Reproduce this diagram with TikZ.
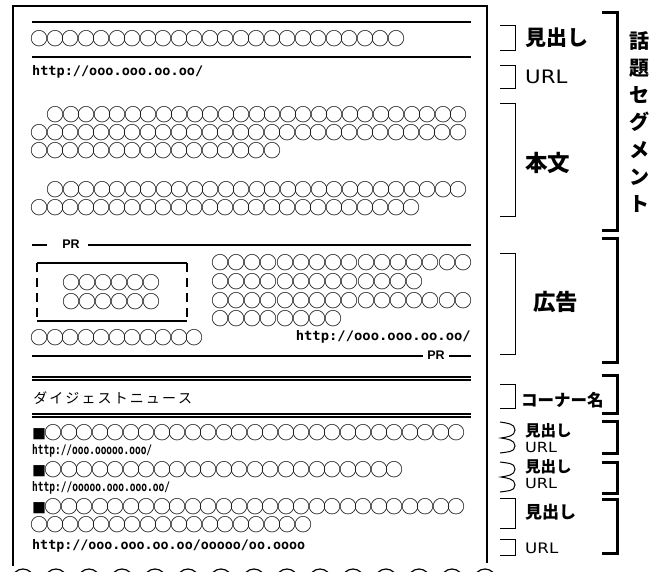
\documentclass[tikz,border=0pt]{standalone}
\usepackage{fontspec}
\usepackage{graphicx}
\newfontfamily\jp{Noto Sans CJK JP}
\newfontfamily\urlf{DejaVu Sans Mono}
\newfontfamily\lat{DejaVu Sans}[FakeStretch=1.15]
\newfontfamily\prf{Liberation Sans}
\newcommand\circs[2][15.5pt]{\foreach \k in {1,...,#2}{\makebox[#1][c]{○}}}
\newcommand\urltxt[2]{\resizebox{#1pt}{10pt}{\urlf\bfseries #2}}
\newcommand\jsz[1]{\fontsize{#1}{#1}\selectfont}
\tikzset{
  row/.style={anchor=west, inner sep=0pt, font=\jp\jsz{18}},
  urlnode/.style={anchor=west, inner sep=0pt},
  frame/.style={line width=2.4pt},
  rule/.style={line width=1.3pt},
  sbr/.style={line width=1pt},
  bbr/.style={line width=3pt},
  lab/.style={anchor=west, inner sep=0pt},
  prlab/.style={inner sep=0pt, font=\prf\bfseries\jsz{12.5}},
  arcc/.style={line width=1.2pt}
}
\begin{document}
\begin{tikzpicture}[x=1pt,y=-1pt]
\useasboundingbox (0,0) rectangle (656,571);
% frame
\draw[frame] (12,6) -- (488,6);
\draw[frame] (13,5) -- (13,566);
\draw[frame] (487,5) -- (487,563);
% topic segment
\draw[rule] (32,22) -- (471,22);
\node[row] (r0) at (32,39) {\circs{24}};
\draw[rule] (32,57) -- (471,57);
\node[urlnode] (u0) at (32,72) {\urltxt{171}{http://ooo.ooo.oo.oo/}};
\node[row] (p1a) at (48,115) {\circs{27}};
\node[row] (p1b) at (32,133) {\circs{28}};
\node[row] (p1c) at (32,151) {\circs{16}};
\node[row] (p2a) at (48,190) {\circs{27}};
\node[row] (p2b) at (32,208) {\circs{25}};
% ad
\node[prlab] (pr1) at (71,244) {PR};
\draw[rule] (32,245) -- (47,245);
\draw[rule] (88,245) -- (471,245);
\draw[rule] (37,263) -- (187,263);
\draw[rule] (37,321) -- (187,321);
\draw[rule, dash pattern=on 9pt off 6pt] (37,263) -- (37,321);
\draw[rule, dash pattern=on 9pt off 6pt] (187,263) -- (187,321);
\node[row] (a1) at (63,283) {\circs[16pt]{6}};
\node[row] (a2) at (63,302) {\circs[16pt]{6}};
\node[row] (a3) at (212,263) {\circs[16.2pt]{16}};
\node[row] (a4) at (212,282) {\circs[16.2pt]{13}};
\node[row] (a5) at (212,301) {\circs[16.2pt]{16}};
\node[row] (a6) at (212,319) {\circs[16.2pt]{8}};
\node[row] (a7) at (32,338) {\circs{11}};
\node[urlnode, anchor=east] (u1) at (471,337) {\urltxt{175}{http://ooo.ooo.oo.oo/}};
\draw[rule] (32,356) -- (423,356);
\node[prlab] (pr2) at (436,355) {PR};
\draw[rule] (449,356) -- (471,356);
% digest
\draw[rule] (32,377) -- (471,377);
\draw[rule] (32,380) -- (471,380);
\node[lab, font=\jp\jsz{14}] (dg) at (32,398) {\makebox[16.1pt]{ダ}\makebox[16.1pt]{イ}\makebox[16.1pt]{ジ}\makebox[16.1pt]{ェ}\makebox[16.1pt]{ス}\makebox[16.1pt]{ト}\makebox[16.1pt]{ニ}\makebox[16.1pt]{ュ}\makebox[16.1pt]{ー}\makebox[16.1pt]{ス}};
\draw[rule] (32,414) -- (471,414);
\draw[rule] (32,417) -- (471,417);
\node[row] (d1) at (32,433) {\makebox[14pt][l]{\jsz{14}■}\circs{27}};
\node[urlnode] (du1) at (32,451) {\urltxt{120}{http://ooo.ooooo.ooo/}};
\node[row] (d2) at (32,470) {\makebox[14pt][l]{\jsz{14}■}\circs{23}};
\node[urlnode] (du2) at (32,488) {\urltxt{138}{http://ooooo.ooo.ooo.oo/}};
\node[row] (d3) at (32,507) {\makebox[14pt][l]{\jsz{14}■}\circs{27}};
\node[row] (d4) at (32,525) {\circs{18}};
\node[urlnode] (du3) at (32,546) {\urltxt{273}{http://ooo.ooo.oo.oo/ooooo/oo.oooo}};
% partial circles at bottom
\begin{scope}
\clip (0,0) rectangle (656,571);
\foreach \i in {0,...,14} \draw[arcc] ({23+33*\i},580) circle (11);
\end{scope}
% small brackets and labels
\draw[sbr] (500,25) -- (515,25) -- (515,50) -- (500,50);
\node[lab, font=\jp\bfseries\jsz{21}] (lh1) at (525,38) {見出し};
\draw[sbr] (500,65) -- (515,65) -- (515,88) -- (500,88);
\node[lab, font=\lat\jsz{18.5}] (lu1) at (525,77) {URL};
\draw[sbr] (500,103) -- (515,103) -- (515,216) -- (500,216);
\node[lab, font=\jp\bfseries\jsz{22.5}] (lbody) at (525,163) {本文};
\draw[sbr] (500,253) -- (515,253) -- (515,354) -- (500,354);
\node[lab, font=\jp\bfseries\jsz{22.5}] (lad) at (533,302) {広告};
\draw[sbr] (500,384) -- (515,384) -- (515,408) -- (500,408);
\node[lab, font=\jp\bfseries\jsz{16.5}] (lcor) at (521,400) {コーナー名};
\draw[sbr] (500,422) to[out=-10,in=90] (515,430) to[out=-90,in=10] (501,438) to[out=-10,in=90] (515,446) to[out=-90,in=10] (500,453);
\node[lab, font=\jp\bfseries\jsz{15.5}] (lh2) at (525,431) {見出し};
\node[lab, font=\lat\jsz{14}] (lu2) at (525,447) {URL};
\draw[sbr] (500,462) to[out=-10,in=90] (515,469) to[out=-90,in=10] (501,477) to[out=-10,in=90] (515,485) to[out=-90,in=10] (500,492);
\node[lab, font=\lat\jsz{14}] (lu3) at (525,483) {URL};
\node[lab, font=\jp\bfseries\jsz{15.5}] (lh3) at (525,467) {見出し};
\draw[sbr] (500,498) -- (515,498) -- (515,528) -- (500,528);
\node[lab, font=\jp\bfseries\jsz{17}] (lh4) at (525,512) {見出し};
\draw[sbr] (500,539) -- (515,539) -- (515,555) -- (500,555);
\node[lab, font=\lat\jsz{14.5}] (lu4) at (525,548) {URL};
% big brackets
\draw[bbr] (602,12) -- (617,12) -- (617,230) -- (602,230);
\draw[bbr] (602,238) -- (617,238) -- (617,362) -- (602,362);
\draw[bbr] (602,375) -- (617,375) -- (617,413) -- (602,413);
\draw[bbr] (602,421) -- (617,421) -- (617,453) -- (602,453);
\draw[bbr] (602,462) -- (617,462) -- (617,493) -- (602,493);
\draw[bbr] (602,499) -- (617,499) -- (617,553) -- (602,553);
\node[inner sep=0pt, align=center, font=\jp\bfseries\fontsize{20}{27.3}\selectfont] (lseg) at (639,122) {話\\題\\セ\\グ\\メ\\ン\\ト};
\end{tikzpicture}
\end{document}
